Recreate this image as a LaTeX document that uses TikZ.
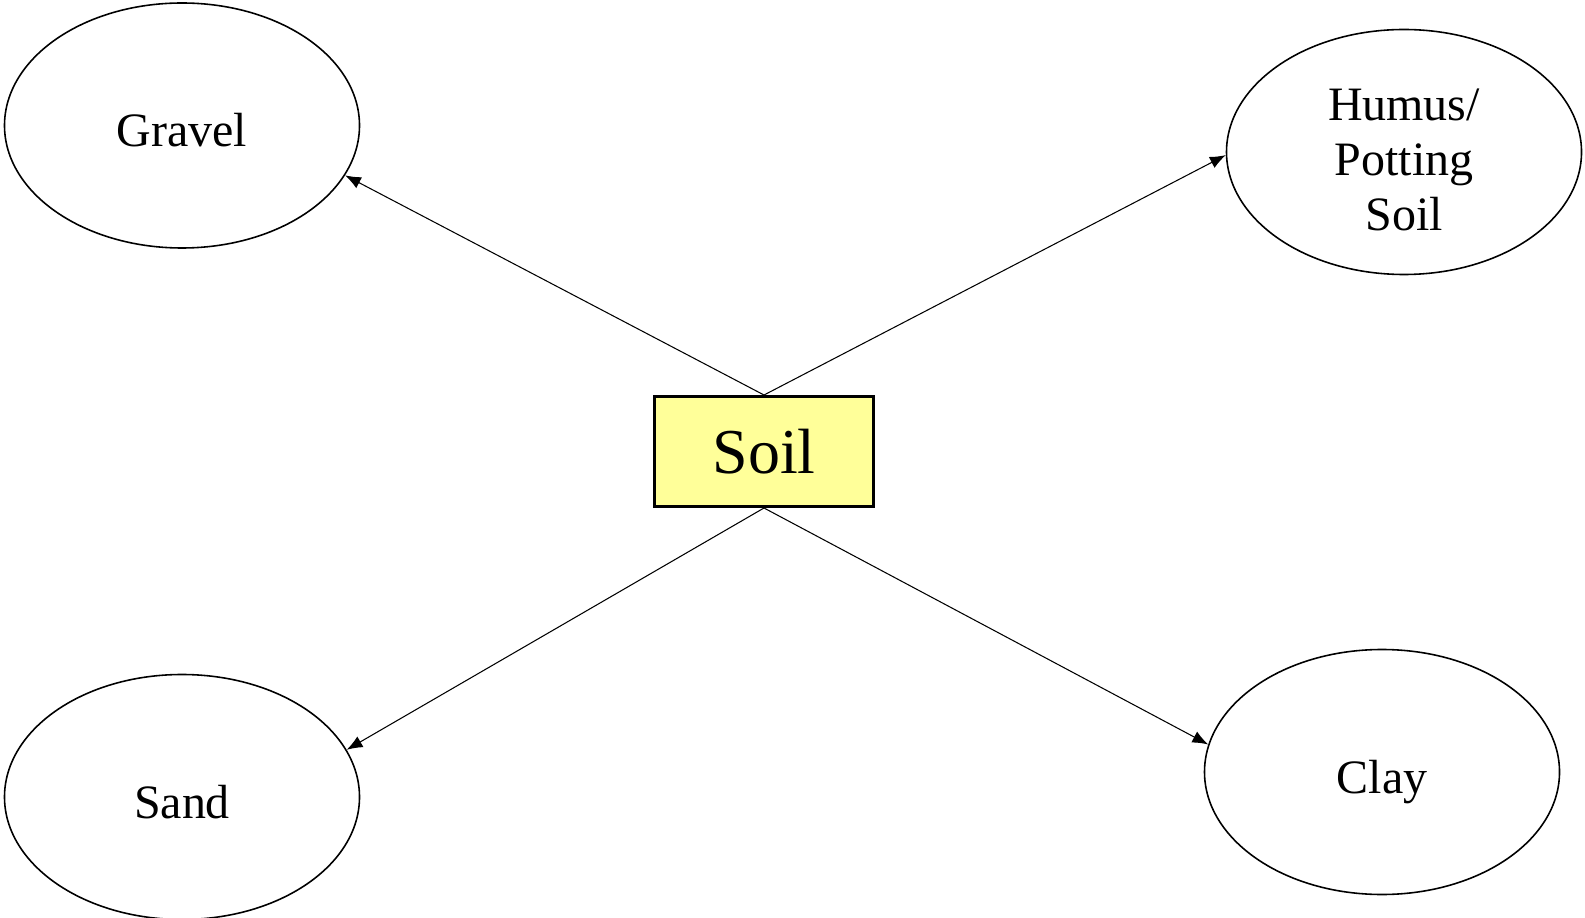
\documentclass[tikz,border=0pt]{standalone}
\usepackage{fontspec}
\setmainfont{Liberation Serif}
\usepackage{tikz}
\usetikzlibrary{shapes.geometric,arrows.meta}
\definecolor{soilyellow}{RGB}{255,255,153}
\newcommand{\rw}{355}
\newcommand{\rh}{245}

\begin{document}
\begin{tikzpicture}[x=0.02cm,y=-0.02cm,
  part/.style={ellipse,draw,line width=0.9pt,inner sep=0pt,
    minimum width=\rw*0.02cm,minimum height=\rh*0.02cm,
    text height=24pt,text depth=0pt,
    align=center,font=\fontsize{27.3}{31.3}\selectfont},
  core/.style={rectangle,draw,line width=1.7pt,fill=soilyellow,
    minimum width=219*0.02cm,minimum height=110*0.02cm,
    font=\fontsize{36.4}{40}\selectfont},
  link/.style={-{Latex[length=9pt,width=7pt]},line width=0.6pt}]
\useasboundingbox (0,0) rectangle (1585,918);
\node[part] (gravel) at (182,125.5) {Gravel};
\node[part,text height=89pt] (humus) at (1404,152) {Humus/\\Potting\\Soil};
\node[part] (sand) at (182,797) {Sand};
\node[part] (clay) at (1382,772) {Clay};
\node[core] (soil) at (764,451.5) {Soil};
\draw[link] (soil.north) -- (gravel.-17.5);
\draw[link] (soil.north) -- (humus.181);
\draw[link] (soil.south) -- (sand.16.5);
\draw[link] (soil.south) -- (clay.171.5);
\end{tikzpicture}
\end{document}
